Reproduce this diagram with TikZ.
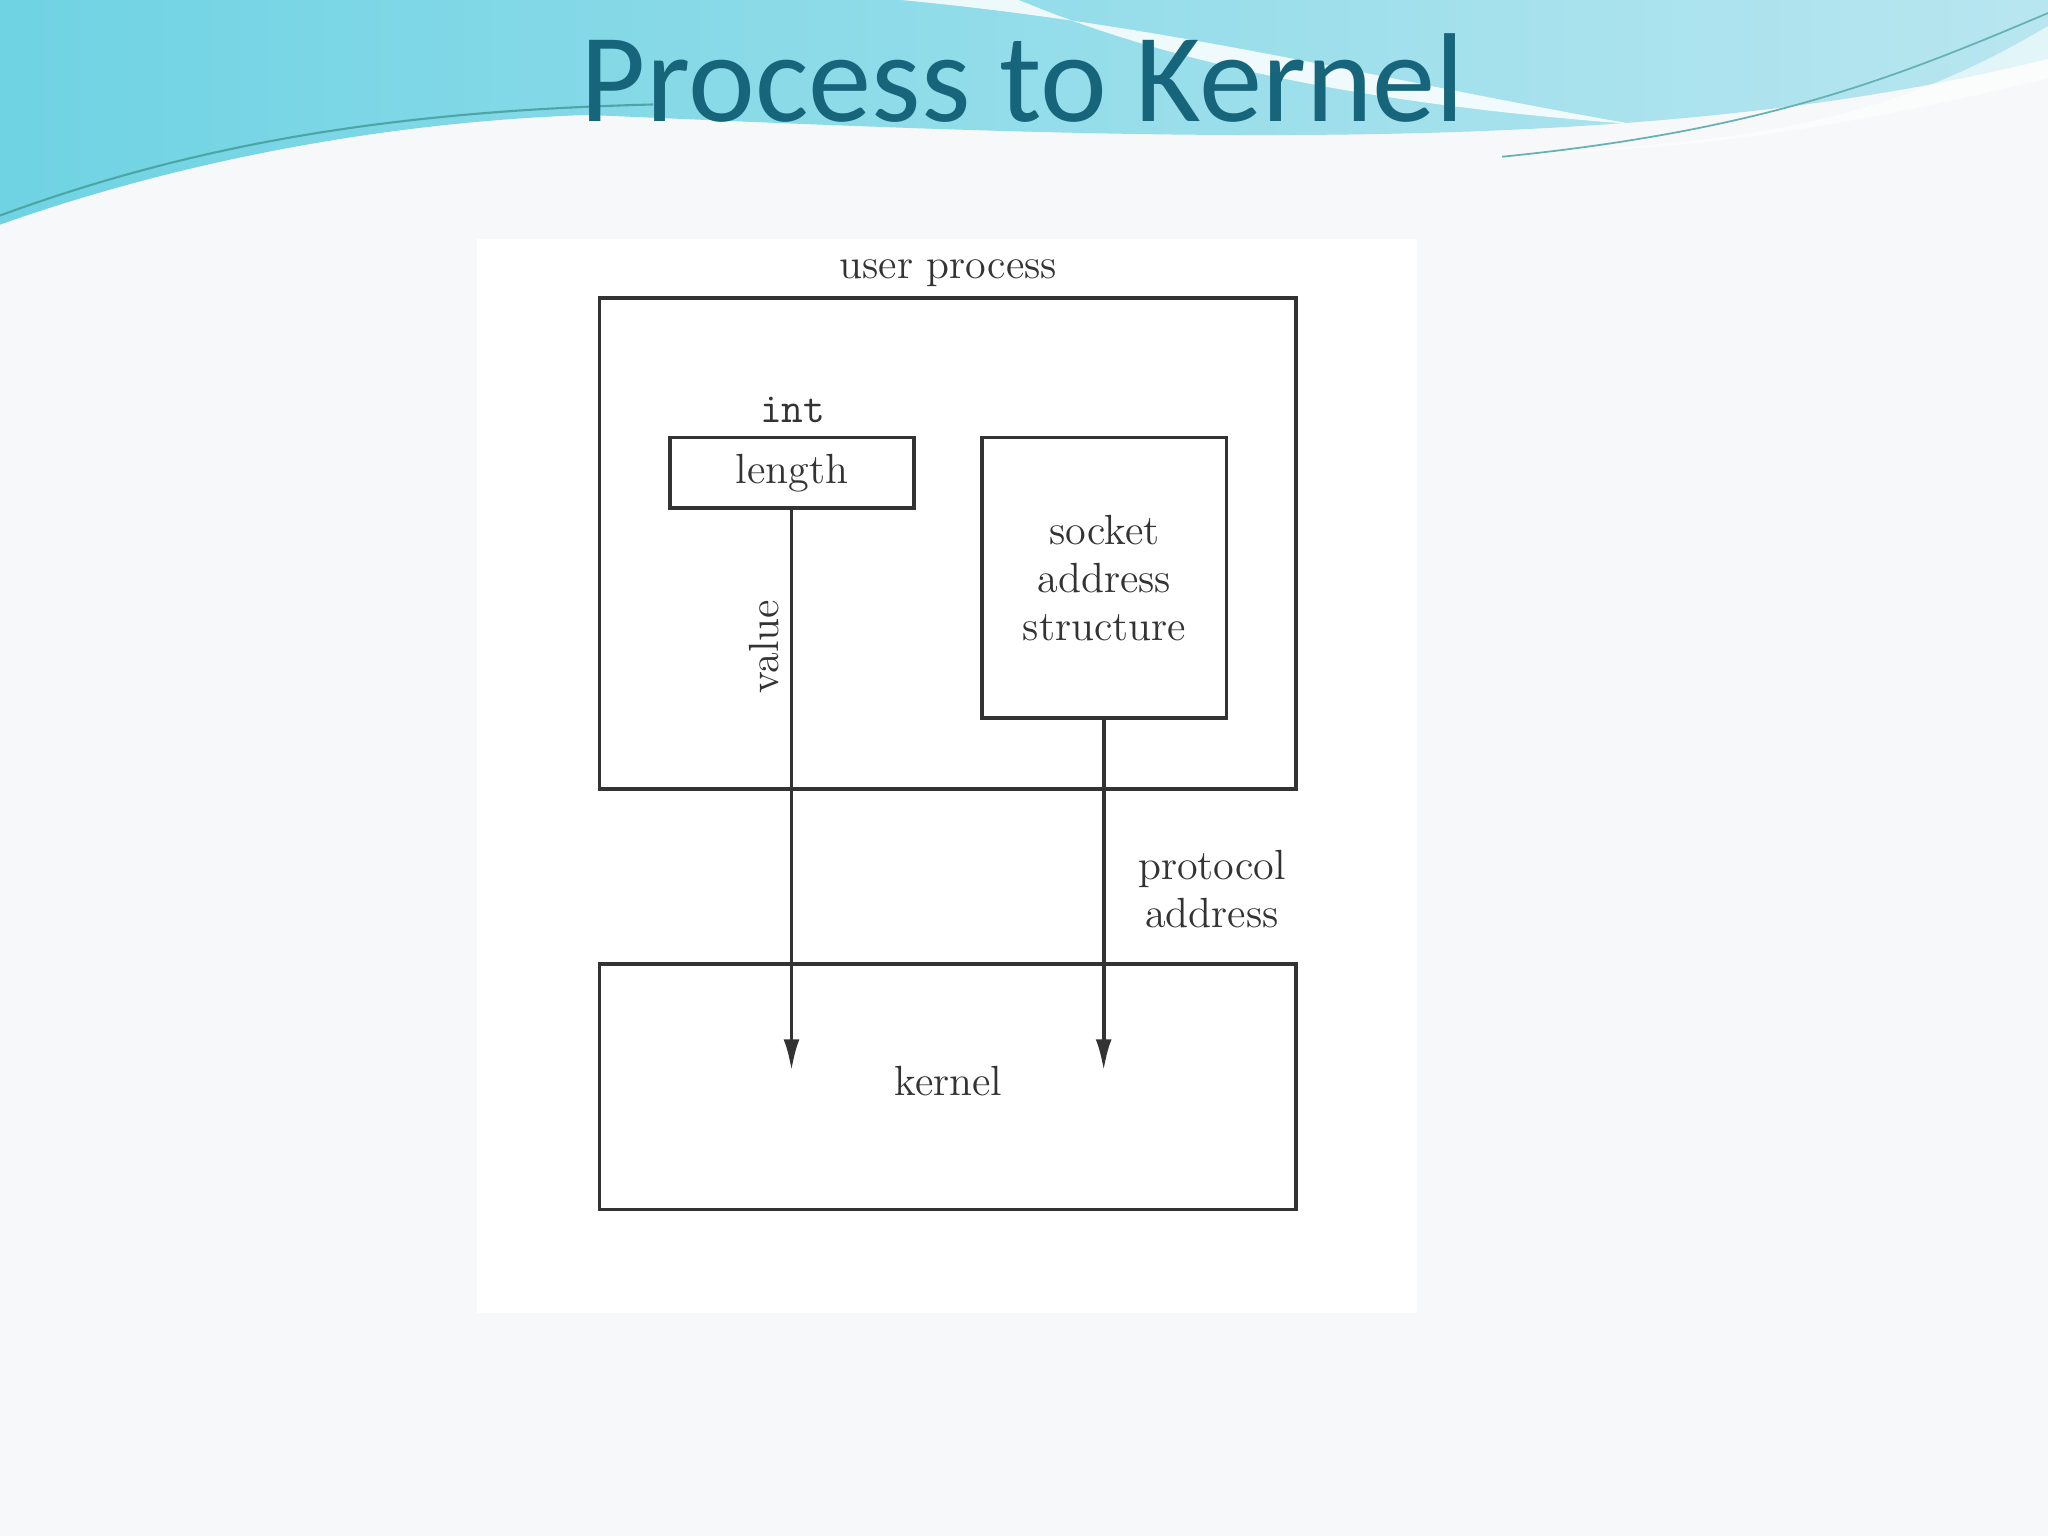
\documentclass[tikz,border=0pt]{standalone}
\usepackage{fontspec}
\newfontfamily\titlefont{Carlito}
\usetikzlibrary{arrows.meta}
\definecolor{page}{HTML}{F7F8F9}
\definecolor{ttl}{HTML}{17657B}
\definecolor{ln}{HTML}{333333}
\definecolor{wl}{HTML}{6FD3E3}
\definecolor{wr}{HTML}{B8E6F0}
\tikzset{
  box/.style={draw=ln,line width=1.1pt},
  lbl/.style={font=\fontsize{12}{13.7}\selectfont,text=ln,align=center,inner sep=0pt},
  arr/.style={draw=ln,line width=1.1pt,-{Latex[length=9pt,width=4.5pt]}}
}
\begin{document}
\begin{tikzpicture}[x=0.01306cm,y=-0.01306cm]
\useasboundingbox (0,0) rectangle (1568,1176);
\fill[page] (0,0) rectangle (1568,1176);
% header wave
\shade[left color=wl,right color=wr]
 (0,0)--(1568,0)--(1568,45) .. controls (1250,125) and (850,105) .. (450,88)
 .. controls (250,95) and (90,140) .. (0,172) -- cycle;
\fill[white,opacity=0.85] (690,0) .. controls (900,20) and (1050,60) .. (1250,95)
 .. controls (1050,80) and (900,50) .. (780,0) -- cycle;
\fill[white,opacity=0.6] (1568,60) .. controls (1400,100) and (1300,115) .. (1150,118)
 .. controls (1350,110) and (1450,90) .. (1568,20) -- cycle;
\draw[teal!70,line width=0.6pt] (0,165) .. controls (150,110) and (300,85) .. (500,80);
\draw[teal!60,line width=0.5pt] (1150,120) .. controls (1350,100) and (1450,60) .. (1568,10);
\node[text=ttl,font=\titlefont\fontsize{36}{42}\selectfont] (title) at (783,60) {Process to Kernel};
% diagram
\fill[white] (365,183) rectangle (1085,1005);
\node[box,minimum width=533*0.01306cm,minimum height=376*0.01306cm,inner sep=0pt] (up) at (725.5,416) {};
\node[lbl,anchor=south] (upl) at (726,220) {user process};
\node[box,minimum width=187*0.01306cm,minimum height=54*0.01306cm,inner sep=0pt] (len) at (606.5,362) {};
\node[lbl] at (len) {length};
\node[lbl,font=\ttfamily\fontsize{12}{13.7}\selectfont] (int) at (607,314) {int};
\node[box,minimum width=187*0.01306cm,minimum height=215*0.01306cm,inner sep=0pt] (sock) at (845.5,442.5) {};
\node[lbl] at (sock) {socket\\address\\structure};
\node[box,minimum width=533*0.01306cm,minimum height=188*0.01306cm,inner sep=0pt] (ker) at (725.5,832) {};
\node[lbl] (kl) at (726,828) {kernel};
\coordinate (e1) at (606,820);
\coordinate (e2) at (845,820);
\draw[arr] (len.south -| e1) -- (e1);
\draw[arr] (sock.south -| e2) -- (e2);
\node[lbl,rotate=90] (val) at (585,495) {value};
\node[lbl] (pa) at (928,681) {protocol\\address};
\end{tikzpicture}
\end{document}
